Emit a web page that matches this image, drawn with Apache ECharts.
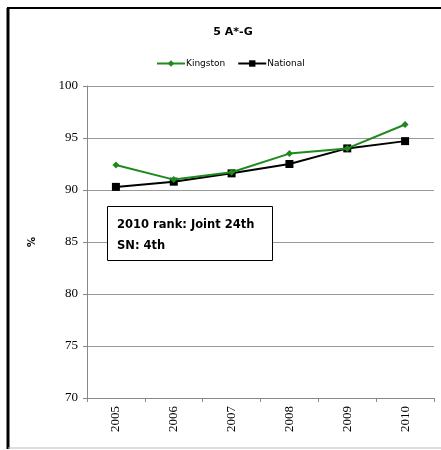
<!DOCTYPE html>
<html>
<head>
<meta charset="UTF-8">
<script src="https://cdn.jsdelivr.net/npm/echarts@6/dist/echarts.min.js"></script>
<style>
  * { margin: 0; padding: 0; }
  body { background: #fff; }
  #chart { width: 441px; height: 450px; }
</style>
</head>
<body>
<div id="chart"></div>
<script>
  // chart data
  const years = ['2005', '2006', '2007', '2008', '2009', '2010'];
  const kingston = [92.4, 91.0, 91.7, 93.5, 94.0, 96.3];
  const national = [90.3, 90.8, 91.6, 92.5, 94.0, 94.7];
  const noteLines = ['2010 rank: Joint 24th', 'SN: 4th'];

  const chart = echarts.init(document.getElementById('chart'));
  chart.setOption({
    animation: false,
    title: {
      text: '5 A*-G',
      left: 228, top: 22, textAlign: 'center',
      textStyle: { fontFamily: 'DejaVu Sans', fontSize: 11, fontWeight: 'bold', color: '#000' }
    },
    legend: {
      top: 54, left: 151,
      itemWidth: 28, itemHeight: 8, itemGap: 12,
      textStyle: { fontFamily: 'DejaVu Sans', fontSize: 9, color: '#000', padding: [0, 0, 0, -4] },
      data: ['Kingston', 'National']
    },
    grid: { left: 87, right: 7, top: 86, bottom: 52 },
    xAxis: {
      type: 'category',
      data: years,
      boundaryGap: true,
      axisLine: { lineStyle: { color: '#888' } },
      axisTick: { show: true, length: 4, lineStyle: { color: '#888' } },
      axisLabel: { rotate: 90, color: '#000', fontFamily: 'Liberation Serif', fontSize: 13, margin: 8 }
    },
    yAxis: {
      type: 'value',
      min: 70, max: 100, interval: 5,
      name: '%', nameLocation: 'middle', nameGap: 50, nameRotate: 90,
      nameTextStyle: { fontFamily: 'DejaVu Sans', fontSize: 10, fontWeight: 'bold', color: '#000' },
      axisLine: { show: true, lineStyle: { color: '#888' } },
      axisTick: { show: true, length: 4, lineStyle: { color: '#888' } },
      axisLabel: { color: '#000', fontFamily: 'Liberation Serif', fontSize: 13, margin: 9 },
      splitLine: { lineStyle: { color: '#999' } }
    },
    series: [
      {
        name: 'Kingston', type: 'line', data: kingston,
        symbol: 'diamond', symbolSize: 7,
        lineStyle: { color: '#1e8a1e', width: 2 },
        itemStyle: { color: '#1e8a1e' },
        z: 3
      },
      {
        name: 'National', type: 'line', data: national,
        symbol: 'rect', symbolSize: 8,
        lineStyle: { color: '#000', width: 2 },
        itemStyle: { color: '#000' },
        z: 2
      }
    ],
    graphic: [
      // outer frame
      { type: 'line', shape: { x1: 8, y1: 8, x2: 8, y2: 449 }, style: { stroke: '#000', lineWidth: 3 } },
      { type: 'line', shape: { x1: 7, y1: 8, x2: 441, y2: 8 }, style: { stroke: '#000', lineWidth: 2 } },
      { type: 'line', shape: { x1: 8, y1: 448, x2: 441, y2: 448 }, style: { stroke: '#bbb', lineWidth: 1 } },
      // annotation box
      {
        type: 'rect', shape: { x: 107.5, y: 206.5, width: 165, height: 54 },
        style: { fill: '#fff', stroke: '#000', lineWidth: 1 }, z: 10
      },
      {
        type: 'text', left: 117, top: 215, z: 11,
        style: { text: noteLines.join('\n'), fontFamily: 'DejaVu Sans', fontSize: 11.5, fontWeight: 'bold', fill: '#000', lineHeight: 21 }
      }
    ]
  });
</script>
</body>
</html>
